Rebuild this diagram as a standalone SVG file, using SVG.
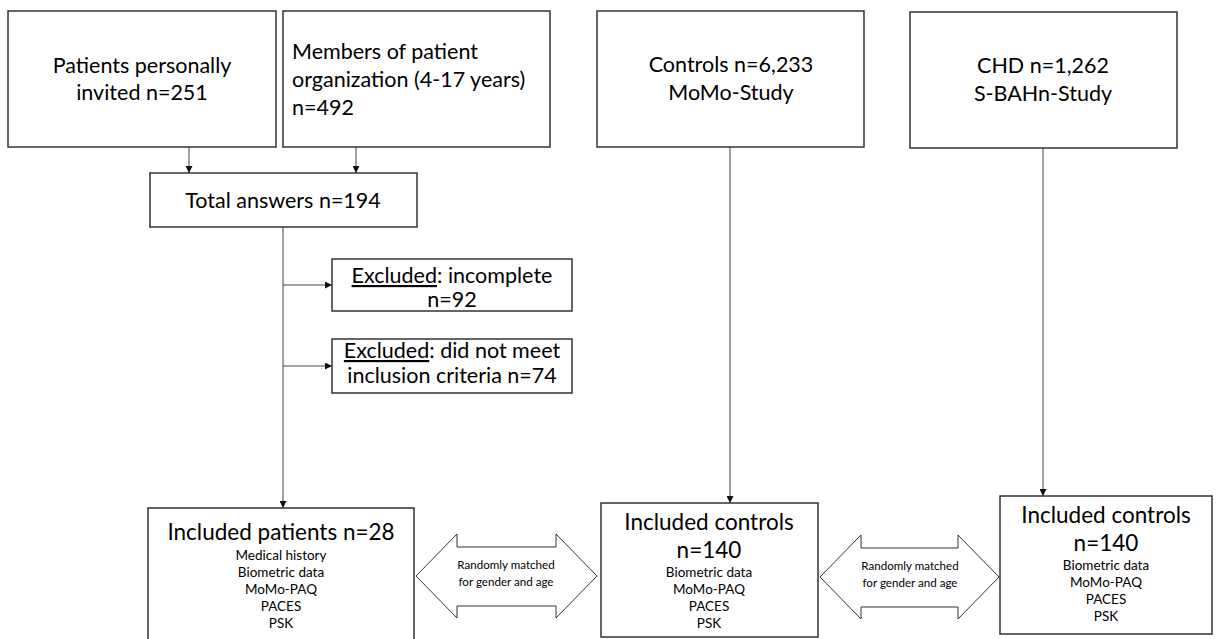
<svg xmlns="http://www.w3.org/2000/svg" width="1216" height="639" viewBox="0 0 1216 639">
<defs>
<marker id="ah" viewBox="0 0 10 10" refX="10" refY="5" markerWidth="7" markerHeight="7" orient="auto" markerUnits="userSpaceOnUse">
<path d="M0,0 L10,5 L0,10 z" fill="#111"/>
</marker>
<style>
.box{fill:#fff;stroke:#333;stroke-width:1.5}
.t{font-family:Lato,"Open Sans",sans-serif;fill:#000}
.l{font-size:21.5px}
.b{font-size:22.5px}
.s{font-size:13.5px}
.xs{font-size:11.6px}
.c{text-anchor:middle}
.con{stroke:#444;stroke-width:1;fill:none}
.dbl{fill:#fff;stroke:#333;stroke-width:1}
</style>
</defs>
<rect width="1216" height="639" fill="#fff"/>
<g id="connectors">
<line class="con" x1="189" y1="147" x2="189" y2="173" marker-end="url(#ah)"/>
<line class="con" x1="356" y1="147" x2="356" y2="173" marker-end="url(#ah)"/>
<line class="con" x1="283" y1="227" x2="283" y2="508" marker-end="url(#ah)"/>
<line class="con" x1="283" y1="285" x2="332" y2="285" marker-end="url(#ah)"/>
<line class="con" x1="283" y1="366" x2="332" y2="366" marker-end="url(#ah)"/>
<line class="con" x1="730" y1="147" x2="730" y2="503" marker-end="url(#ah)"/>
<line class="con" x1="1043" y1="148" x2="1043" y2="496" marker-end="url(#ah)"/>
</g>
<g id="n-invited">
<rect class="box" x="8" y="11" width="268" height="136"/>
<text class="t l c" x="142" y="73">Patients personally</text>
<text class="t l c" x="142" y="100">invited n=251</text>
</g>
<g id="n-members">
<rect class="box" x="283" y="11" width="267" height="136"/>
<text class="t l" x="292" y="59">Members of patient</text>
<text class="t l" x="292" y="87">organization (4-17 years)</text>
<text class="t l" x="292" y="115">n=492</text>
</g>
<g id="n-controls">
<rect class="box" x="597" y="11" width="267" height="136"/>
<text class="t l c" x="731" y="72">Controls n=6,233</text>
<text class="t l c" x="731" y="100">MoMo-Study</text>
</g>
<g id="n-chd">
<rect class="box" x="910" y="12" width="267" height="136"/>
<text class="t l c" x="1043" y="73">CHD n=1,262</text>
<text class="t l c" x="1043" y="101">S-BAHn-Study</text>
</g>
<g id="n-total">
<rect class="box" x="150" y="173" width="267" height="54"/>
<text class="t l c" x="283" y="208">Total answers n=194</text>
</g>
<g id="n-excl1">
<rect class="box" x="332" y="259" width="240" height="52"/>
<text class="t l c" x="452" y="283"><tspan text-decoration="underline">Excluded</tspan>: incomplete</text>
<text class="t l c" x="452" y="307">n=92</text>
</g>
<g id="n-excl2">
<rect class="box" x="332" y="339" width="240" height="54"/>
<text class="t l c" x="452" y="358"><tspan text-decoration="underline">Excluded</tspan>: did not meet</text>
<text class="t l c" x="452" y="383">inclusion criteria n=74</text>
</g>
<g id="n-incl-patients">
<rect class="box" x="148" y="508" width="266" height="140"/>
<text class="t b c" x="281" y="540">Included patients n=28</text>
<text class="t s c" x="281" y="560">Medical history</text>
<text class="t s c" x="281" y="577">Biometric data</text>
<text class="t s c" x="281" y="594">MoMo-PAQ</text>
<text class="t s c" x="281" y="611">PACES</text>
<text class="t s c" x="281" y="628">PSK</text>
</g>
<g id="n-match1">
<path class="dbl" d="M416,576 L457,534 L457,547 L556,547 L556,534 L597,576 L556,618 L556,606 L457,606 L457,618 Z"/>
<text class="t xs c" x="506" y="569">Randomly matched</text>
<text class="t xs c" x="506" y="586">for gender and age</text>
</g>
<g id="n-incl-controls1">
<rect class="box" x="601" y="503" width="217" height="134"/>
<text class="t b c" x="709" y="530">Included controls</text>
<text class="t b c" x="709" y="558">n=140</text>
<text class="t s c" x="709" y="577">Biometric data</text>
<text class="t s c" x="709" y="594">MoMo-PAQ</text>
<text class="t s c" x="709" y="611">PACES</text>
<text class="t s c" x="709" y="628">PSK</text>
</g>
<g id="n-match2">
<path class="dbl" d="M820,577 L861,535 L861,548 L958,548 L958,535 L999,577 L958,619 L958,607 L861,607 L861,619 Z"/>
<text class="t xs c" x="910" y="570">Randomly matched</text>
<text class="t xs c" x="910" y="587">for gender and age</text>
</g>
<g id="n-incl-controls2">
<rect class="box" x="1000" y="496" width="212" height="138"/>
<text class="t b c" x="1106" y="523">Included controls</text>
<text class="t b c" x="1106" y="551">n=140</text>
<text class="t s c" x="1106" y="570">Biometric data</text>
<text class="t s c" x="1106" y="587">MoMo-PAQ</text>
<text class="t s c" x="1106" y="604">PACES</text>
<text class="t s c" x="1106" y="621">PSK</text>
</g>
</svg>
